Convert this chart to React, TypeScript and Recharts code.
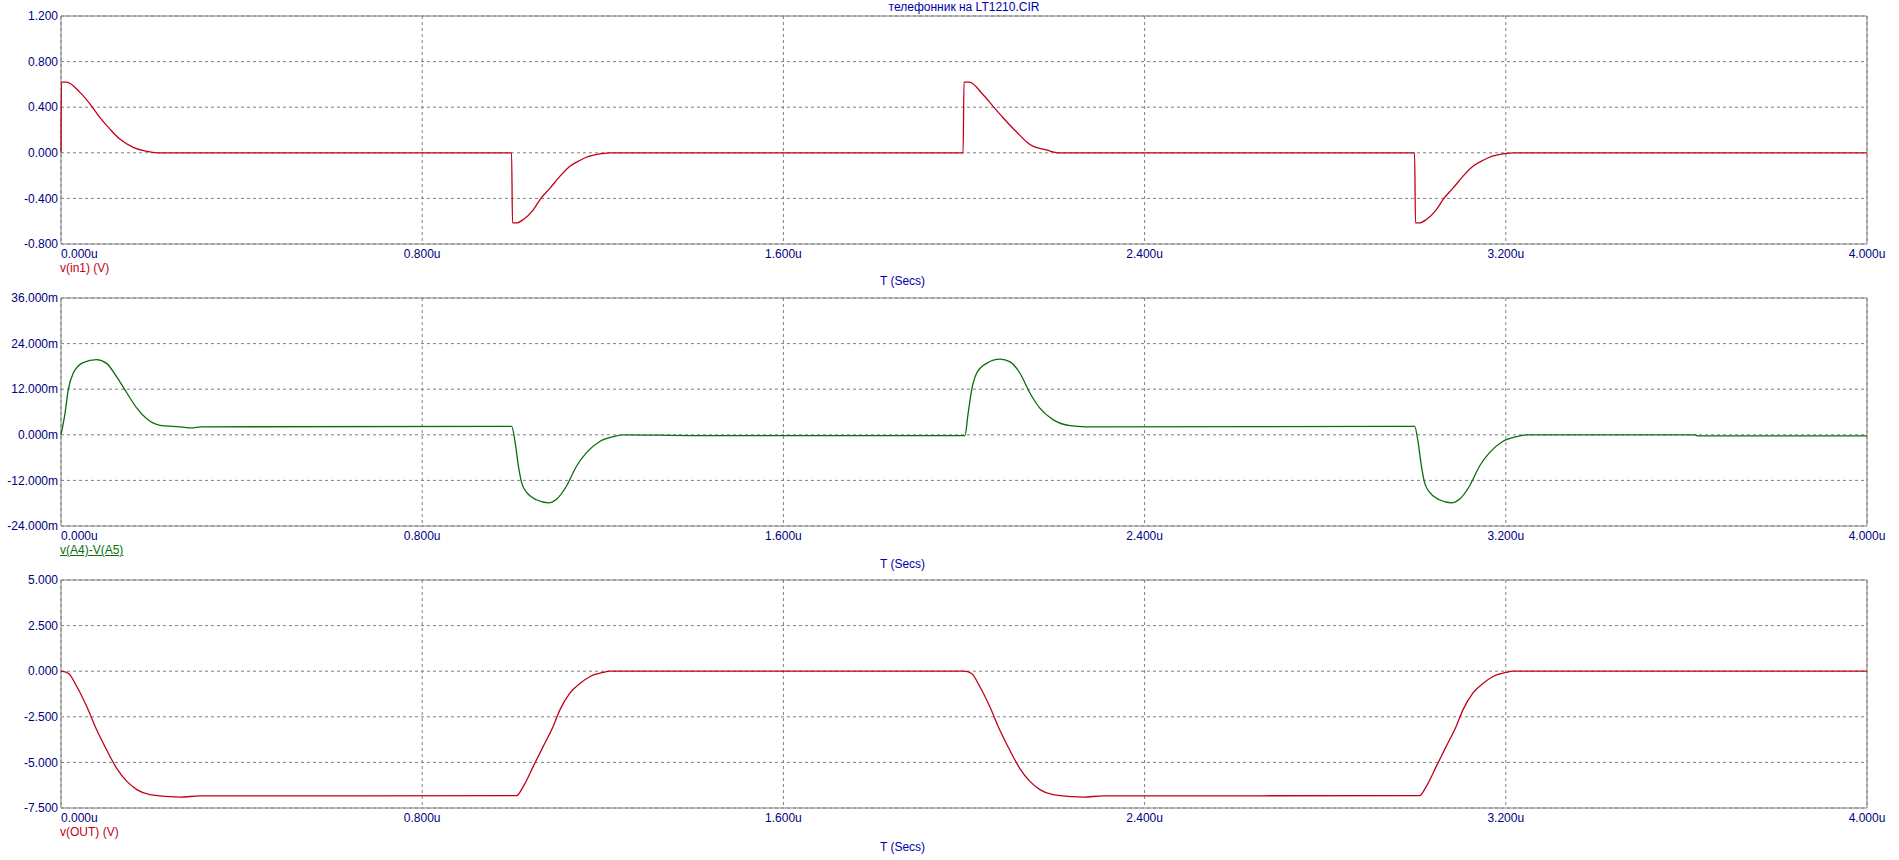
import { LineChart, Line, XAxis, YAxis, CartesianGrid, ReferenceArea } from 'recharts';

const FONT = '"Liberation Sans", Arial, sans-serif';
const TICK_COLOR = '#000080';
const LABEL_COLOR = '#0000aa';

const timeTicks = [0, 0.8, 1.6, 2.4, 3.2, 4];
const inTicks = [-0.8, -0.4, 0, 0.4, 0.8, 1.2];
const diffTicks = [-24, -12, 0, 12, 24, 36];
const outTicks = [-7.5, -5, -2.5, 0, 2.5, 5];

// v(in1), time in us, volts
const inTime = [
  0, 0.001, 0.012, 0.042, 0.064, 0.086, 0.109, 0.131, 0.16, 0.19, 0.213,
  0.998, 1.0, 1.009, 1.024, 1.046, 1.061, 1.083, 1.105, 1.127, 1.15, 1.17, 1.2, 1.215,
  1.998, 2.0, 2.012, 2.04, 2.064, 2.086, 2.117, 2.146, 2.184, 2.21,
  2.998, 3.0, 3.009, 3.024, 3.046, 3.061, 3.083, 3.105, 3.127, 3.15, 3.17, 3.2, 3.215,
  4.0,
];
const inVolts = [
  0, 0.62, 0.62, 0.53, 0.43, 0.31, 0.205, 0.118, 0.047, 0.012, 0,
  0, -0.615, -0.615, -0.585, -0.5, -0.41, -0.31, -0.207, -0.118, -0.065, -0.03, -0.006, 0,
  0, 0.62, 0.62, 0.52, 0.41, 0.31, 0.18, 0.073, 0.023, 0,
  0, -0.615, -0.615, -0.585, -0.5, -0.41, -0.31, -0.207, -0.118, -0.065, -0.03, -0.006, 0,
  0,
];

// v(A4)-V(A5), time in us, millivolts
const diffTime = [
  0, 0.009, 0.016, 0.027, 0.049, 0.079, 0.101, 0.123, 0.146, 0.168, 0.19, 0.219, 0.264, 0.29, 0.31,
  0.998, 1.006, 1.013, 1.02, 1.031, 1.053, 1.08, 1.098, 1.12, 1.142, 1.164, 1.194, 1.223, 1.245,
  1.4, 2.002, 2.009, 2.017, 2.028, 2.05, 2.08, 2.102, 2.124, 2.146, 2.168, 2.197, 2.235, 2.27,
  2.998, 3.006, 3.013, 3.02, 3.031, 3.053, 3.08, 3.098, 3.12, 3.142, 3.164, 3.194, 3.223, 3.245,
  3.62, 3.625, 4.0,
];
const diffMilli = [
  0, 5.7, 11.8, 16.2, 19.0, 19.8, 18.8, 15.3, 11.0, 7.0, 4.2, 2.5, 2.1, 1.8, 2.1,
  2.2, -2.1, -8.2, -12.5, -15.1, -17.1, -17.9, -16.9, -13.4, -8.2, -4.7, -1.7, -0.5, 0,
  -0.2, -0.2, 5.5, 11.8, 16.2, 18.8, 19.9, 19.2, 16.2, 11.0, 7.0, 4.0, 2.4, 2.1,
  2.2, -2.1, -8.2, -12.5, -15.1, -17.1, -17.9, -16.9, -13.4, -8.2, -4.7, -1.7, -0.5, 0,
  0, -0.3, -0.3,
];

// v(OUT), time in us, volts
const outTime = [
  0, 0.016, 0.035, 0.057, 0.079, 0.101, 0.123, 0.146, 0.168, 0.197, 0.241, 0.264, 0.308,
  1.009, 1.024, 1.046, 1.068, 1.09, 1.105, 1.127, 1.15, 1.172, 1.2, 1.216,
  2.0, 2.016, 2.035, 2.057, 2.079, 2.101, 2.123, 2.146, 2.168, 2.197, 2.241, 2.264, 2.308,
  3.009, 3.024, 3.046, 3.068, 3.09, 3.105, 3.127, 3.15, 3.172, 3.2, 3.216,
  4.0,
];
const outVolts = [
  0, -0.11, -0.84, -1.94, -3.21, -4.31, -5.31, -6.04, -6.49, -6.77, -6.88, -6.9, -6.84,
  -6.82, -6.31, -5.22, -4.12, -3.03, -2.12, -1.2, -0.66, -0.29, -0.07, 0,
  0, -0.11, -0.84, -1.94, -3.21, -4.31, -5.31, -6.04, -6.49, -6.77, -6.88, -6.9, -6.84,
  -6.82, -6.31, -5.22, -4.12, -3.03, -2.12, -1.2, -0.66, -0.29, -0.07, 0,
  0,
];

const zip = (t: number[], v: number[]) => t.map((x, i) => ({ t: x, v: v[i] }));

function TimeTick(props: any) {
  const { x, y, payload, index } = props;
  return (
    <text
      x={x}
      y={y + 12}
      textAnchor={index === 0 ? 'start' : 'middle'}
      fill={TICK_COLOR}
      fontSize={12}
      fontFamily={FONT}
    >
      {payload.value.toFixed(3)}u
    </text>
  );
}

interface PanelProps {
  top: number;
  data: { t: number; v: number }[];
  color: string;
  ticks: number[];
  fmt: (v: number) => string;
}

function Panel({ top, data, color, ticks, fmt }: PanelProps) {
  const lo = ticks[0];
  const hi = ticks[ticks.length - 1];
  return (
    <div style={{ position: 'absolute', left: 0, top }}>
      <LineChart width={1899} height={260} data={data} margin={{ top: 16, right: 32, bottom: 0, left: 0 }}>
        <CartesianGrid stroke="#808080" strokeDasharray="3 3" />
        <XAxis
          dataKey="t"
          type="number"
          domain={[0, 4]}
          ticks={timeTicks}
          interval={0}
          height={16}
          tickSize={0}
          axisLine={false}
          tickLine={false}
          tick={<TimeTick />}
        />
        <YAxis
          type="number"
          domain={[lo, hi]}
          ticks={ticks}
          interval={0}
          width={61}
          tickSize={0}
          tickMargin={3}
          axisLine={false}
          tickLine={false}
          tickFormatter={fmt}
          tick={{ fill: TICK_COLOR, fontSize: 12, fontFamily: FONT }}
        />
        <ReferenceArea x1={0} x2={4} y1={lo} y2={hi} fill="none" fillOpacity={0} stroke="#808080" strokeWidth={1} />
        <Line
          type="monotone"
          dataKey="v"
          stroke={color}
          strokeWidth={1.3}
          dot={false}
          isAnimationActive={false}
        />
      </LineChart>
    </div>
  );
}

const textStyle = {
  position: 'absolute' as const,
  fontFamily: FONT,
  fontSize: 12,
  lineHeight: '12px',
  whiteSpace: 'nowrap' as const,
};

export default function App() {
  const red = '#c00018';
  const green = '#0a6e0a';
  return (
    <div style={{ position: 'absolute', left: 0, top: 0, width: 1899, height: 860, background: '#fff', overflow: 'hidden' }}>
      <div style={{ ...textStyle, left: 61, width: 1806, top: 1, textAlign: 'center', color: LABEL_COLOR }}>
        телефонник на LT1210.CIR
      </div>

      <Panel top={0} data={zip(inTime, inVolts)} color={red} ticks={inTicks} fmt={(v) => v.toFixed(3)} />
      <div style={{ ...textStyle, left: 60, top: 262, color: red }}>v(in1) (V)</div>
      <div style={{ ...textStyle, left: 880, top: 275, color: LABEL_COLOR }}>T (Secs)</div>

      <Panel top={282} data={zip(diffTime, diffMilli)} color={green} ticks={diffTicks} fmt={(v) => `${v.toFixed(3)}m`} />
      <div style={{ ...textStyle, left: 60, top: 544, color: green, textDecoration: 'underline' }}>v(A4)-V(A5)</div>
      <div style={{ ...textStyle, left: 880, top: 558, color: LABEL_COLOR }}>T (Secs)</div>

      <Panel top={564} data={zip(outTime, outVolts)} color={red} ticks={outTicks} fmt={(v) => v.toFixed(3)} />
      <div style={{ ...textStyle, left: 60, top: 826, color: red }}>v(OUT) (V)</div>
      <div style={{ ...textStyle, left: 880, top: 841, color: LABEL_COLOR }}>T (Secs)</div>
    </div>
  );
}
